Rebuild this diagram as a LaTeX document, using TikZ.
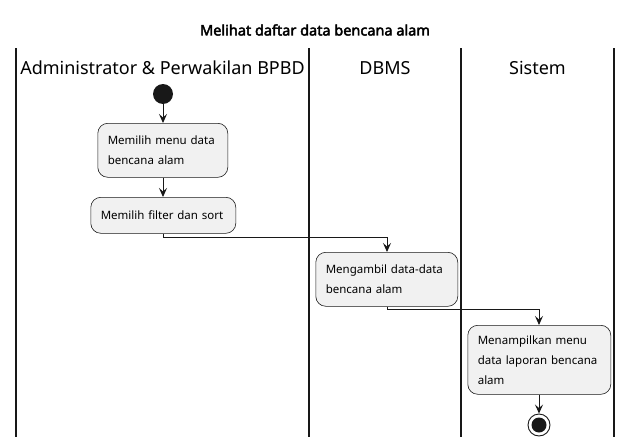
\documentclass[tikz,border=0pt]{standalone}
\usepackage{fontspec}
\setmainfont{Noto Sans}
\newfontfamily\titlefont{Noto Sans}[FakeBold=2.8]
\usetikzlibrary{arrows.meta}
\definecolor{boxfill}{HTML}{F1F1F1}
\definecolor{ink}{HTML}{181818}
\begin{document}
\begin{tikzpicture}[x=1pt,y=-1pt,
  actbox/.style={draw=ink, fill=boxfill, rounded corners=10pt, line width=0.6pt,
    inner xsep=10pt, inner ysep=6pt, align=left, anchor=north west,
    font=\fontsize{11.5}{20}\selectfont, text width=#1},
  lane/.style={line width=1.4pt, draw=ink},
  flow/.style={draw=ink, line width=0.9pt, -{Stealth[length=9pt,width=8pt,inset=3.5pt]}},
  hdr/.style={font=\fontsize{18}{20}\selectfont, text=black},
]
\useasboundingbox (0,0) rectangle (632,447);
% title
\node[font=\titlefont\fontsize{14.5}{16}\selectfont] (title) at (315,30) {Melihat daftar data bencana alam};
% lanes
\coordinate (l0t) at (16,48); \coordinate (l0b) at (16,437);
\coordinate (l1t) at (309,48); \coordinate (l1b) at (309,437);
\coordinate (l2t) at (461,48); \coordinate (l2b) at (461,437);
\coordinate (l3t) at (614,48); \coordinate (l3b) at (614,437);
\draw[lane] (l0t) -- (l0b);
\draw[lane] (l1t) -- (l1b);
\draw[lane] (l2t) -- (l2b);
\draw[lane] (l3t) -- (l3b);
\node[hdr] (h1) at (162.5,68) {Administrator \& Perwakilan BPBD};
\node[hdr] (h2) at (385,68) {DBMS};
\node[hdr] (h3) at (537.5,68) {Sistem};
% start
\node[circle, fill=ink, inner sep=0pt, minimum size=20pt] (start) at (163,94) {};
% activities
\node[actbox=110pt, minimum height=54pt] (a1) at (97.5,123) {\mbox{Memilih menu data}\\\mbox{bencana alam}};
\node[actbox=125pt, minimum height=36pt] (a2) at (90.5,197) {\mbox{Memilih filter dan sort}};
\node[actbox=122pt, minimum height=54pt] (a3) at (315.5,252) {\mbox{Mengambil data-data}\\\mbox{bencana alam}};
\node[actbox=123pt, minimum height=69pt] (a4) at (467.5,325) {\mbox{Menampilkan menu}\\\mbox{data laporan bencana}\\\mbox{alam}};
% end
\node[circle, draw=ink, line width=0.9pt, fill=white, inner sep=0pt, minimum size=22pt] (stop) at (539,425) {};
\node[circle, fill=ink, inner sep=0pt, minimum size=15pt] (stopin) at (stop.center) {};
% flows
\draw[flow] (start) -- (start |- a1.north);
\draw[flow] (a1.south -| start) -- (start |- a2.north);
\coordinate (j1) at (163,237.5);
\coordinate (j2) at (387,237.5);
\draw[flow] (a2.south -| start) -- (j1) -- (j2) -- (j2 |- a3.north);
\coordinate (k1) at (387,309.5);
\coordinate (k2) at (539,309.5);
\draw[flow] (k1 |- a3.south) -- (k1) -- (k2) -- (k2 |- a4.north);
\draw[flow] (a4.south -| stop) -- (stop.north);
\end{tikzpicture}
\end{document}
